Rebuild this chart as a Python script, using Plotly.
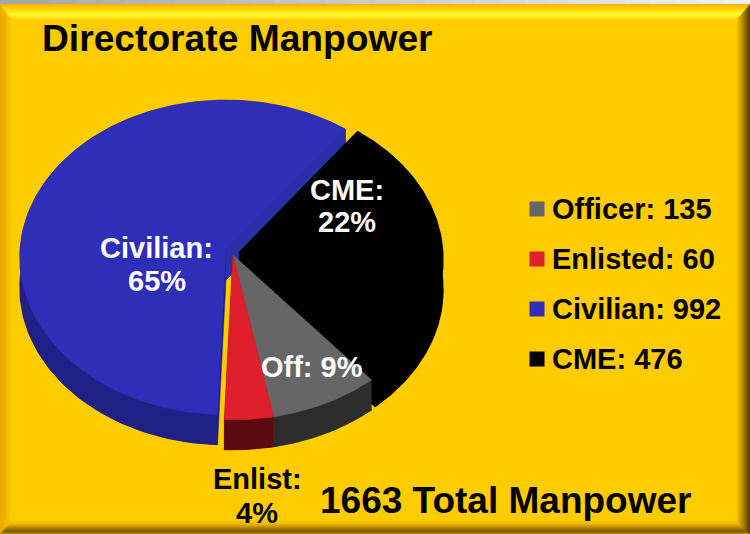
import numpy as np
import plotly.graph_objects as go

# ---- data ----
categories = ["Officer", "Enlisted", "Civilian", "CME"]
headcounts = [135, 60, 992, 476]
pie_names = ["Off", "Enlist", "Civilian", "CME"]
pie_percents = [9, 4, 65, 22]
title_text = "Directorate Manpower"
total_text = "1663 Total Manpower"

# ---- styling ----
FONT = "Liberation Sans"
YELLOW = "#ffcc00"
top_colors = {"Officer": "#666666", "Enlisted": "#e01f2d", "Civilian": "#2e2eb8", "CME": "#000000"}
wall_colors = {"Officer": "#2d2d2d", "Enlisted": "#5c0a10", "Civilian": "#1f1f85", "CME": "#000000"}
cut_colors = {"Officer": "#3a3a3a", "Enlisted": "#5c0a10", "Civilian": "#2a30a6", "CME": "#000000"}
centers = {"Officer": (233, 255), "Enlisted": (233, 255), "Civilian": (226, 250), "CME": (239, 252)}
radii = {"Officer": 208, "Enlisted": 208, "Civilian": 206, "CME": 204}
RY, PERSP, DEPTH, START = 157.0, 0.0476, 30, 37.0


def project(name, t):
    r = np.radians(t)
    s, c = np.sin(r), np.cos(r)
    den = 1 + PERSP * c
    cx, cy = centers[name]
    return cx + radii[name] * s / den, cy - RY * c / den


# sweep clockwise from the CME start edge: CME, Officer, Enlisted, Civilian
order = ["CME", "Officer", "Enlisted", "Civilian"]
total = sum(headcounts)
sweep = {c: v / total * 360 for c, v in zip(categories, headcounts)}
spans = {}
a = START
for name in order:
    spans[name] = (a, a + sweep[name])
    a += sweep[name]

fig = go.Figure()


def poly(xs, ys, color):
    fig.add_trace(go.Scatter(x=list(xs), y=list(ys), mode="lines", fill="toself",
                             fillcolor=color, line=dict(color=color, width=0.5),
                             hoverinfo="skip", showlegend=False))


for name in ["Civilian", "CME", "Officer", "Enlisted"]:
    t0, t1 = spans[name]
    ts = np.linspace(t0, t1, 160)
    rx, ry = project(name, ts)
    cx, cy = centers[name]
    xs = np.r_[cx, rx, cx]
    ys = np.r_[cy, ry, cy]
    poly(xs, ys + DEPTH, wall_colors[name])              # extruded bottom
    # outer wall between top rim and bottom rim
    poly(np.r_[rx, rx[::-1]], np.r_[ry, ry[::-1] + DEPTH], wall_colors[name])
    # cut face at the far (end) edge of the slice
    ex, ey = project(name, t1)
    poly([cx, ex, ex, cx], [cy, ey, ey + DEPTH, cy + DEPTH], cut_colors[name])
    poly(xs, ys, top_colors[name])                       # top surface

# legend squares
legend_y = [209, 259, 309, 359]
fig.add_trace(go.Scatter(x=[537] * 4, y=legend_y, mode="markers",
                         marker=dict(symbol="square", size=15,
                                     color=[top_colors[c] for c in categories]),
                         hoverinfo="skip", showlegend=False))


# ---- slide background with bevel ----
def lerp(stops, t):
    pos = [p for p, _ in stops]
    rgb = np.array([[int(c[i:i + 2], 16) for i in (1, 3, 5)] for _, c in stops], float)
    v = [np.interp(t, pos, rgb[:, k]) for k in range(3)]
    return "rgb(%d,%d,%d)" % tuple(v)


shapes = [dict(type="rect", x0=0, x1=750, y0=0, y1=534, fillcolor=YELLOW, line_width=0, layer="below")]
for i in range(30):
    shapes.append(dict(type="rect", x0=i * 25, x1=(i + 1) * 25, y0=0, y1=4.5, line_width=0, layer="below",
                       fillcolor=lerp([(0, "#a8a8a8"), (1, "#f0f0f0")], i / 29)))

top_stops = [(0, "#f2b600"), (0.25, "#ffd000"), (0.68, "#ffff33"), (1, "#ffcc00")]
bot_stops = [(0, "#d8a800"), (0.2, "#7a5800"), (0.45, "#b08400"), (0.75, "#eebb00"), (1, "#ffcc00")]
left_stops = [(0, "#e8ac00"), (0.4, "#f0b400"), (1, "#ffcc00")]
right_stops = [(0, "#4a3600"), (0.4, "#9a7400"), (1, "#ffcc00")]
L, R, T, B = 12, 14, 16, 14
TOP_Y, N = 4.5, 32
for i in range(N):
    a, b = i / N, (i + 1) / N
    o = (L * a, 750 - R * a, TOP_Y + T * a, 534 - B * a)
    n = (L * b, 750 - R * b, TOP_Y + T * b, 534 - B * b)
    m = (a + b) / 2
    quads = [
        (f"M{o[0]},{o[2]} L{o[1]},{o[2]} L{n[1]},{n[2]} L{n[0]},{n[2]} Z", lerp(top_stops, m)),
        (f"M{o[0]},{o[3]} L{o[1]},{o[3]} L{n[1]},{n[3]} L{n[0]},{n[3]} Z", lerp(bot_stops, m)),
        (f"M{o[0]},{o[2]} L{n[0]},{n[2]} L{n[0]},{n[3]} L{o[0]},{o[3]} Z", lerp(left_stops, m)),
        (f"M{o[1]},{o[2]} L{n[1]},{n[2]} L{n[1]},{n[3]} L{o[1]},{o[3]} Z", lerp(right_stops, m)),
    ]
    for path, col in quads:
        shapes.append(dict(type="path", path=path, fillcolor=col, line=dict(color=col, width=0.5), layer="below"))

# ---- text ----
ann = []


def text(x, y, s, size, color="#000000", anchor="center"):
    ann.append(dict(x=x, y=y, text=s, showarrow=False, xanchor=anchor, yanchor="middle",
                    font=dict(family=FONT, size=size, color=color), xref="x", yref="y"))


text(40, 38, f"<b>{title_text}</b>", 37.2, anchor="left")
text(318, 500, f"<b>{total_text}</b>", 37, anchor="left")
for c, v, y in zip(categories, headcounts, legend_y):
    text(550, y, f"<b>{c}: {v}</b>", 29, anchor="left")

pct = dict(zip(pie_names, pie_percents))
text(347, 190, f"<b>CME:</b>", 29, "#ffffff")
text(347, 222, f"<b>{pct['CME']}%</b>", 29, "#ffffff")
text(156, 248, f"<b>Civilian:</b>", 29, "#ffffff")
text(157, 281, f"<b>{pct['Civilian']}%</b>", 29, "#ffffff")
text(312, 367, f"<b>Off: {pct['Off']}%</b>", 29, "#ffffff")
text(257, 479, f"<b>Enlist:</b>", 29)
text(257, 513, f"<b>{pct['Enlist']}%</b>", 29)

fig.update_layout(
    width=750, height=534, autosize=False,
    margin=dict(l=0, r=0, t=0, b=0),
    paper_bgcolor=YELLOW, plot_bgcolor=YELLOW,
    xaxis=dict(range=[0, 750], visible=False, fixedrange=True),
    yaxis=dict(range=[534, 0], visible=False, fixedrange=True),
    shapes=shapes, annotations=ann, showlegend=False,
)
fig.write_html("out.html", config={"displayModeBar": False},
               post_script="document.body.style.margin='0';document.body.style.overflow='hidden';")
